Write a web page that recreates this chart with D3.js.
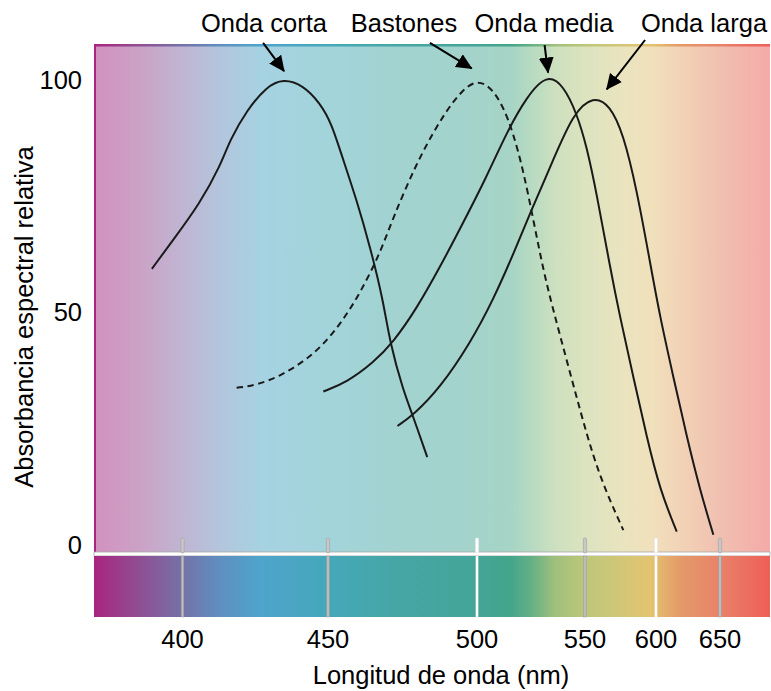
<!DOCTYPE html>
<html>
<head>
<meta charset="utf-8">
<script src="https://cdn.jsdelivr.net/npm/d3@7"></script>
<style>
  body { margin: 0; background: #fff; }
  svg { display: block; font-family: "Liberation Sans", Arial, sans-serif; }
</style>
</head>
<body>
<svg id="chart" width="771" height="691"></svg>
<script>
// ─── Data ────────────────────────────────────────────────────
// [wavelength nm, relative absorbance]
const ondaCorta = [
  [389.5, 59.4], [396.8, 65.6], [406.0, 73.5], [412.9, 81.4], [416.3, 87.1],
  [422.1, 93.5], [428.9, 98.6], [434.6, 100.3], [441.5, 98.9], [447.3, 95.0],
  [451.2, 90.7], [455.1, 82.8], [459.6, 74.2], [464.1, 64.2], [468.5, 52.7],
  [470.8, 43.4], [475.2, 33.3], [478.6, 27.6], [483.3, 18.9]
];
const bastones = [
  [418.6, 33.8], [425.5, 34.4], [433.5, 36.3], [441.5, 39.4], [448.4, 43.0],
  [455.1, 48.4], [460.7, 54.1], [467.4, 62.6], [471.9, 70.5], [479.7, 82.1],
  [486.5, 90.1], [492.1, 95.6], [498.8, 100.2], [506.0, 98.8], [512.2, 94.3],
  [516.8, 88.5], [521.4, 80.6], [526.1, 69.9], [530.7, 59.1], [535.3, 50.5],
  [541.5, 39.8], [547.7, 29.0], [555.8, 19.0], [565.3, 11.1], [577.0, 3.2]
];
const ondaMedia = [
  [448.4, 33.0], [456.3, 35.0], [465.2, 39.2], [471.9, 43.6], [479.7, 50.8],
  [487.6, 59.8], [494.3, 68.0], [504.5, 79.2], [513.8, 88.8], [523.0, 96.4],
  [532.3, 101.3], [540.0, 98.9], [546.2, 92.8], [551.2, 85.7], [558.2, 75.6],
  [567.6, 59.8], [574.6, 49.1], [584.0, 36.2], [593.4, 23.3], [603.1, 11.8],
  [616.2, 2.9]
];
const ondaLarga = [
  [473.3, 25.6], [478.7, 28.0], [487.6, 33.8], [497.7, 43.4], [507.5, 52.7],
  [517.6, 63.4], [524.5, 71.3], [535.3, 82.8], [544.5, 92.8], [555.8, 96.6],
  [567.6, 94.6], [576.9, 88.5], [586.4, 76.5], [595.8, 60.8], [603.1, 49.1],
  [613.5, 36.2], [624.0, 23.3], [634.4, 11.8], [644.8, 2.2]
];

const seriesNames = ["Onda corta", "Bastones", "Onda media", "Onda larga"];
const seriesData = [ondaCorta, bastones, ondaMedia, ondaLarga];
const seriesDashed = [false, true, false, false];

// label x, arrow start [nm, abs], arrow tip [nm, abs]
const labelX = [428.0, 475.5, 531.0, 637.5];
const arrowFrom = [[427.7, 108.0], [484.2, 108.0], [531.3, 107.5], [592.3, 108.6]];
const arrowTo = [[434.9, 101.9], [498.2, 102.5], [532.9, 101.6], [565.3, 98.0]];

const xTicks = [400, 450, 500, 550, 600, 650];
const yTicks = [0, 50, 100];

// background gradients, [nm, colour]
const pastelStops = [
  [370, "#d291bf"], [385.4, "#cba2c6"], [400, "#c0b5d3"], [412.9, "#b3c5dc"],
  [426.6, "#a6d2e2"], [450.7, "#a2d4da"], [474.2, "#a2d3d0"], [497.7, "#a3d3cb"],
  [515.3, "#a6d4c5"], [524.5, "#b5dac2"], [536.1, "#cde0bf"], [550, "#dce3bf"],
  [575.4, "#e9e4bf"], [595.8, "#f0e1bc"], [618.8, "#f2d3b6"], [650, "#f0c0b1"],
  [689, "#f5aaa8"]
];
const spectrumStops = [
  [370, "#a8267f"], [385.4, "#8f4f93"], [400, "#7472a8"], [412.9, "#5f8fc0"],
  [426.6, "#4ea4cc"], [450.7, "#45a8b9"], [474.2, "#46a6a4"], [497.7, "#44a59a"],
  [515.3, "#43a58a"], [524.5, "#62af86"], [536.1, "#9fc07c"], [550, "#bdc77a"],
  [575.4, "#d2c677"], [595.8, "#e3c470"], [618.8, "#e49a68"], [650, "#e8826a"],
  [689, "#ee5e57"]
];

// ─── Scales ──────────────────────────────────────────────────
const plotTop = 45, plotBottom = 552, plotLeft = 95, plotRight = 770;
const barTop = 556, barBottom = 617;
const fontSize = 25.5;

const x = d3.scaleLinear()
  .domain([370, 400, 450, 500, 550, 600, 650, 689])
  .range([plotLeft, 182.5, 328, 477, 585, 656, 720, plotRight]);
const y = d3.scaleLinear().domain([0, 100]).range([545, 80]);

const svg = d3.select("#chart");
const defs = svg.append("defs");

function addGradient(id, stops) {
  const g = defs.append("linearGradient")
    .attr("id", id)
    .attr("gradientUnits", "userSpaceOnUse")
    .attr("x1", plotLeft).attr("x2", plotRight)
    .attr("y1", 0).attr("y2", 0);
  g.selectAll("stop").data(stops).join("stop")
    .attr("offset", (d) => (x(d[0]) - plotLeft) / (plotRight - plotLeft))
    .attr("stop-color", (d) => d[1]);
}
addGradient("pastel", pastelStops);
addGradient("spectrum", spectrumStops);

defs.append("marker")
  .attr("id", "arrow")
  .attr("markerUnits", "userSpaceOnUse")
  .attr("viewBox", "0 -8 16 16")
  .attr("refX", 15).attr("refY", 0)
  .attr("markerWidth", 16).attr("markerHeight", 16)
  .attr("orient", "auto")
  .append("path")
  .attr("d", "M0,-7.5L16,0L0,7.5Z")
  .attr("fill", "#000");

// ─── Background ──────────────────────────────────────────────
svg.append("rect")
  .attr("x", plotLeft).attr("y", plotTop)
  .attr("width", plotRight - plotLeft).attr("height", plotBottom - plotTop)
  .attr("fill", "url(#pastel)");

// top border in spectrum colours, left border magenta
svg.append("rect")
  .attr("x", plotLeft - 1).attr("y", plotTop - 1)
  .attr("width", plotRight - plotLeft + 1).attr("height", 2.5)
  .attr("fill", "url(#spectrum)");
svg.append("rect")
  .attr("x", plotLeft - 1).attr("y", plotTop - 1)
  .attr("width", 2).attr("height", plotBottom - plotTop + 1)
  .attr("fill", "#a8267f");

// separator + spectrum bar
svg.append("rect")
  .attr("x", plotLeft - 1).attr("y", plotBottom)
  .attr("width", plotRight - plotLeft + 1).attr("height", barTop - plotBottom)
  .attr("fill", "#fff").attr("stroke", "#a9a9a9").attr("stroke-width", 0.8);
svg.append("rect")
  .attr("x", plotLeft - 1).attr("y", barTop)
  .attr("width", plotRight - plotLeft + 1).attr("height", barBottom - barTop)
  .attr("fill", "url(#spectrum)");

// ─── Ticks ───────────────────────────────────────────────────
const whiteTicks = new Set([500, 600]);
const tickG = svg.append("g");
tickG.selectAll("rect.nub").data(xTicks).join("rect")
  .attr("class", "nub")
  .attr("x", (d) => x(d) - 1.6).attr("y", 538)
  .attr("width", 3.2).attr("height", plotBottom - 538 + 1)
  .attr("rx", 1.2)
  .attr("fill", (d) => whiteTicks.has(d) ? "#fff" : "#c8c8c8")
  .attr("stroke", (d) => whiteTicks.has(d) ? "#e0e0e0" : "#a0a0a0")
  .attr("stroke-width", 0.6);
tickG.selectAll("rect.bar").data(xTicks).join("rect")
  .attr("class", "bar")
  .attr("x", (d) => x(d) - 1.3).attr("y", barTop)
  .attr("width", 2.6).attr("height", barBottom - barTop)
  .attr("fill", (d) => whiteTicks.has(d) ? "#fff" : "#bdbdbd")
  .attr("stroke", (d) => whiteTicks.has(d) ? "none" : "#9a9a9a")
  .attr("stroke-width", 0.5);

tickG.selectAll("text.xt").data(xTicks).join("text")
  .attr("class", "xt")
  .attr("x", (d) => x(d)).attr("y", 648)
  .attr("text-anchor", "middle")
  .attr("font-size", fontSize)
  .text((d) => d);

tickG.selectAll("text.yt").data(yTicks).join("text")
  .attr("class", "yt")
  .attr("x", 82).attr("y", (d) => y(d))
  .attr("dy", "0.35em")
  .attr("text-anchor", "end")
  .attr("font-size", fontSize)
  .text((d) => d);

svg.append("text")
  .attr("x", 441).attr("y", 684)
  .attr("text-anchor", "middle")
  .attr("font-size", fontSize)
  .text("Longitud de onda (nm)");

svg.append("text")
  .attr("transform", "translate(33,317) rotate(-90)")
  .attr("text-anchor", "middle")
  .attr("font-size", fontSize)
  .text("Absorbancia espectral relativa");

// ─── Curves ──────────────────────────────────────────────────
const line = d3.line()
  .x((d) => x(d[0]))
  .y((d) => y(d[1]))
  .curve(d3.curveBasis);

svg.append("g")
  .selectAll("path")
  .data(seriesData)
  .join("path")
  .attr("d", line)
  .attr("fill", "none")
  .attr("stroke", "#1a1a1a")
  .attr("stroke-width", 2)
  .attr("stroke-dasharray", (d, i) => seriesDashed[i] ? "6.5,4.5" : null);

// ─── Labels & arrows ─────────────────────────────────────────
const ann = svg.append("g");
ann.selectAll("line")
  .data(seriesNames)
  .join("line")
  .attr("x1", (d, i) => x(arrowFrom[i][0])).attr("y1", (d, i) => y(arrowFrom[i][1]))
  .attr("x2", (d, i) => x(arrowTo[i][0])).attr("y2", (d, i) => y(arrowTo[i][1]))
  .attr("stroke", "#000")
  .attr("stroke-width", 2)
  .attr("marker-end", "url(#arrow)");

ann.selectAll("text")
  .data(seriesNames)
  .join("text")
  .attr("x", (d, i) => x(labelX[i])).attr("y", 32)
  .attr("text-anchor", "middle")
  .attr("font-size", fontSize)
  .text((d) => d);
</script>
</body>
</html>
